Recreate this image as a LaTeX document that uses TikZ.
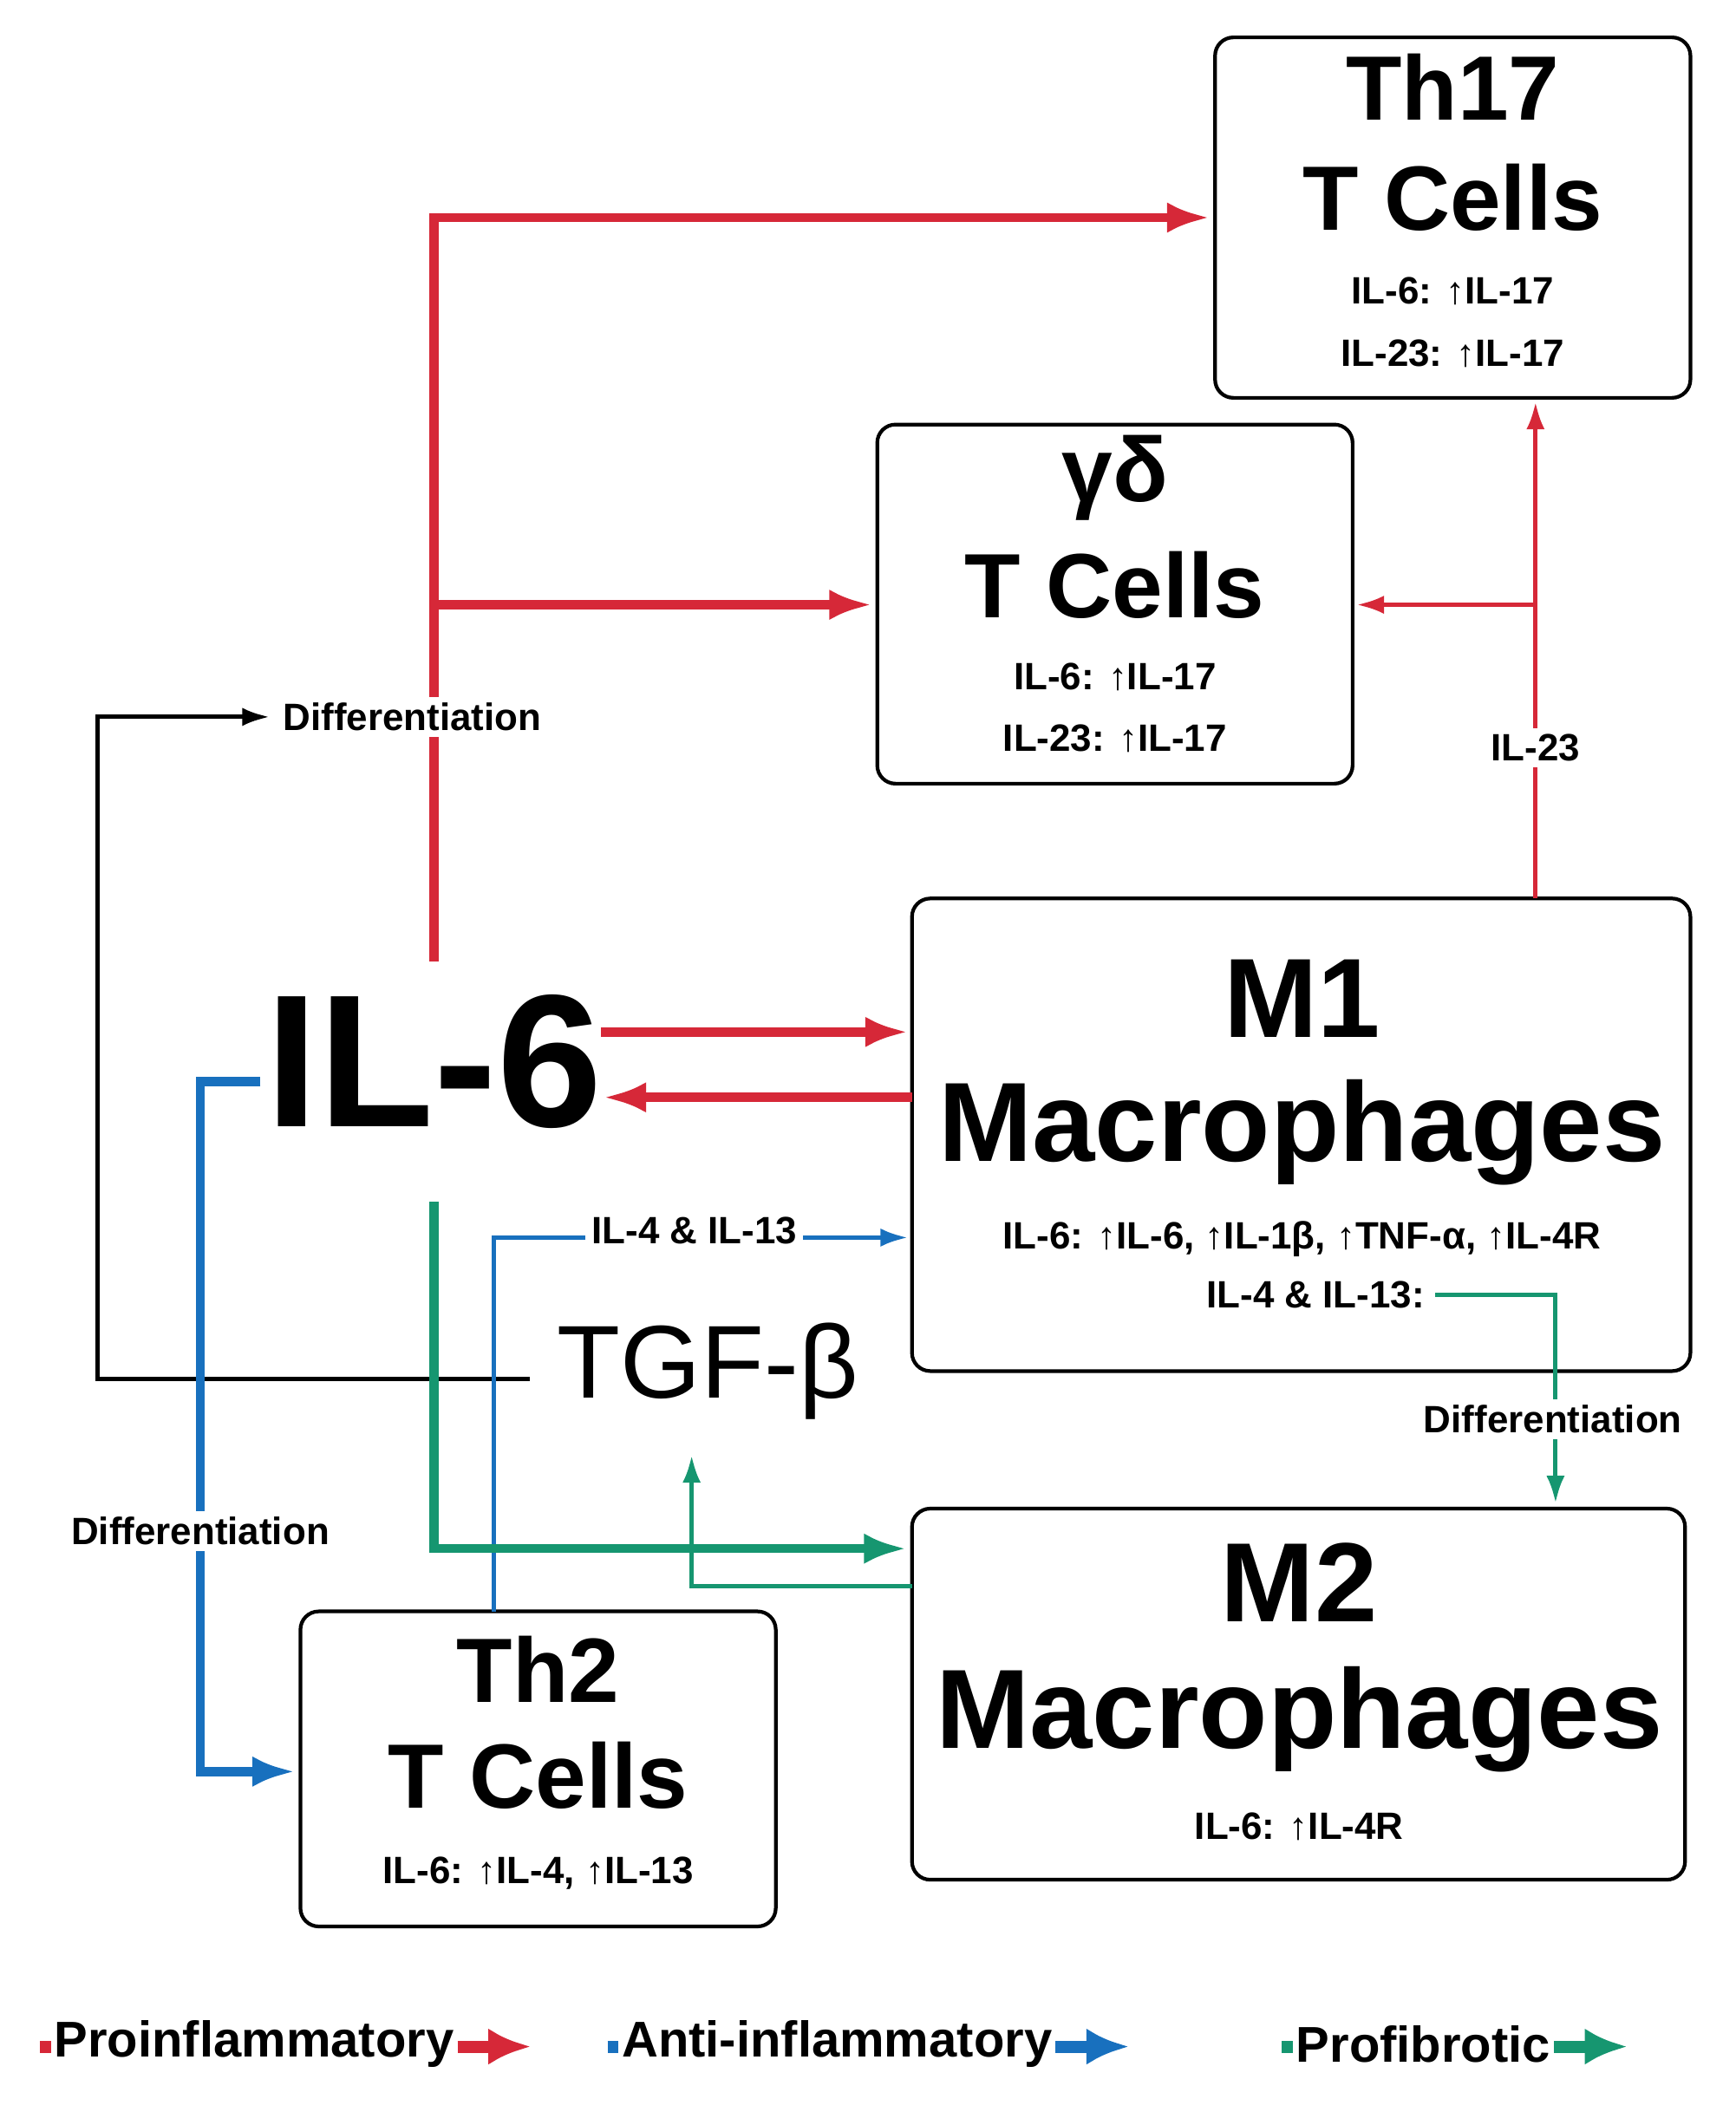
\documentclass[tikz,border=0pt]{standalone}
\usepackage{fontspec}
\setmainfont{Liberation Sans}
\usetikzlibrary{arrows.meta}
\definecolor{pro}{RGB}{214,40,56}
\definecolor{anti}{RGB}{24,112,190}
\definecolor{fib}{RGB}{22,150,112}
\tikzset{
 box/.style={draw,rounded corners=6pt,line width=1.2pt},
 ttl/.style={font=\bfseries\fontsize{30}{30}\selectfont},
 big/.style={font=\bfseries\fontsize{37}{37}\selectfont},
 sml/.style={font=\bfseries\fontsize{12.5}{13}\selectfont},
 thick arr/.style={line width=3pt,-{Latex[length=14pt,width=10pt]}},
 thin arr/.style={line width=1.4pt,-{Latex[length=9pt,width=6pt]}},
 lbl/.style={sml,fill=white,inner sep=2pt}
}
\begin{document}
\begin{tikzpicture}[x=0.154mm,y=-0.154mm]
\useasboundingbox (0,0) rectangle (1300,1582);
%boxes
\draw[box] (910,28) rectangle (1266,298);
\draw[box] (657,318) rectangle (1013,587);
\draw[box] (683,673) rectangle (1266,1027);
\draw[box] (683,1130) rectangle (1262,1408);
\draw[box] (225,1207) rectangle (581,1443);
\node[ttl] (th17) at (1088,65) {Th17};
\node[ttl] at (1088,148) {T Cells};
\node[sml] at (1088,218) {IL-6: ↑IL-17};
\node[sml] at (1088,265) {IL-23: ↑IL-17};
\node[ttl] at (835,358) {γδ};
\node[ttl] at (835,438) {T Cells};
\node[sml] at (835,507) {IL-6: ↑IL-17};
\node[sml] at (835,553) {IL-23: ↑IL-17};
\node[big] at (975,748) {M1};
\node[big] at (975,848) {Macrophages};
\node[sml] at (975,928) {IL-6: ↑IL-6, ↑IL-1β, ↑TNF-α, ↑IL-4R};
\node[sml,anchor=east] (il413) at (1075,970) {IL-4 \& IL-13:};
\node[big] at (973,1185) {M2};
\node[big] at (973,1288) {Macrophages};
\node[sml] at (973,1368) {IL-6: ↑IL-4R};
\node[ttl] at (403,1250) {Th2};
\node[ttl] at (403,1330) {T Cells};
\node[sml] at (403,1403) {IL-6: ↑IL-4, ↑IL-13};
\node[font=\bfseries\fontsize{62}{62}\selectfont] (il6) at (325,795) {IL-6};
\node[font=\fontsize{34}{34}\selectfont] (tgf) at (530,1027) {TGF-β};
%red
\draw[pro,thick arr] (325,720) -- (325,163) -- (906,163);
\draw[pro,thick arr] (325,453) -- (653,453);
\draw[pro,thick arr] (450,773) -- (680,773);
\draw[pro,thick arr] (683,822) -- (452,822);
\draw[pro,thin arr] (1150,673) -- (1150,301);
\draw[pro,thin arr] (1150,453) -- (1016,453);
\node[lbl] at (1150,560) {IL-23};
%black
\draw[line width=1.4pt,-{Latex[length=9pt,width=6pt]}] (397,1033) -- (73,1033) -- (73,537) -- (202,537);
\node[lbl,anchor=west] at (207,537) {Differentiation};
%blue
\draw[anti,thick arr] (195,810) -- (150,810) -- (150,1327) -- (221,1327);
\node[lbl] at (150,1147) {Differentiation};
\draw[anti,thin arr] (370,1207) -- (370,927) -- (680,927);
\node[lbl] at (520,922) {IL-4 \& IL-13};
%green
\draw[fib,thick arr] (325,900) -- (325,1160) -- (679,1160);
\draw[fib,thin arr] (683,1188) -- (518,1188) -- (518,1090);
\draw[fib,thin arr] (il413.east) -- (1165,970) -- (1165,1126);
\node[lbl] at (1163,1063) {Differentiation};
%legend
\foreach \c/\x/\t in {pro/30/Proinflammatory,anti/455/Anti-inflammatory,fib/960/Profibrotic}{
 \draw[\c,line width=4pt] (\x,1533) -- (\x+8,1533);
 \node[font=\bfseries\fontsize{16.5}{17}\selectfont,anchor=west,inner sep=1pt] (leg\c) at (\x+8,1531) {\t};
 \draw[\c,line width=4pt,-{Latex[length=14pt,width=12pt]}] (leg\c.east) ++(0,2) -- ++(55,0);
}
\end{tikzpicture}
\end{document}
